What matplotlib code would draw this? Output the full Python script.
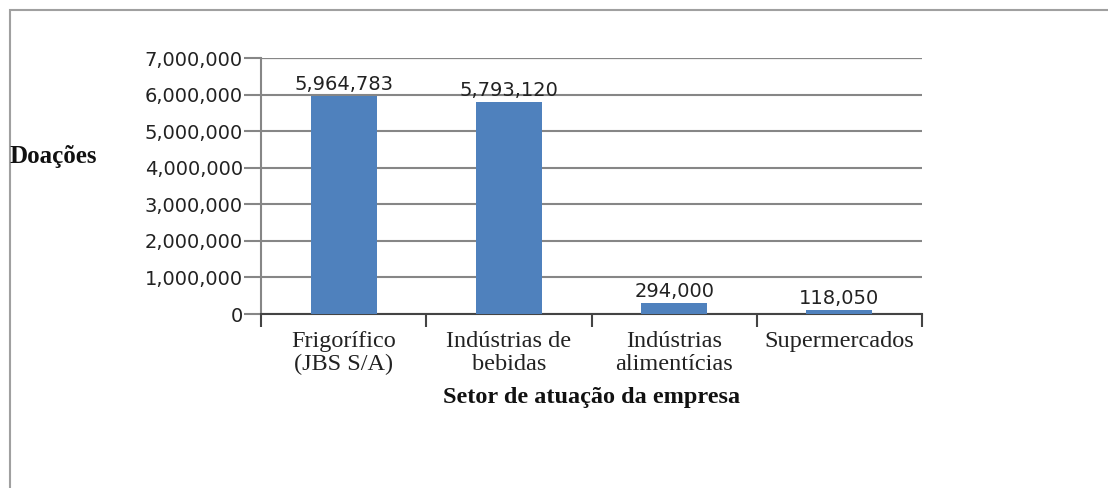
import matplotlib.pyplot as plt
from matplotlib.patches import Rectangle
from matplotlib.ticker import FuncFormatter

# dados
setores = ['Frigorífico\n(JBS S/A)', 'Indústrias de\nbebidas', 'Indústrias\nalimentícias', 'Supermercados']
doacoes = [5964783, 5793120, 294000, 118050]
yticks = [0, 1000000, 2000000, 3000000, 4000000, 5000000, 6000000, 7000000]

fig = plt.figure(figsize=(11.08, 4.88), dpi=100)
fig.patches.append(Rectangle((10 / 1108, -0.01), 1.1, (488 - 10) / 488 + 0.01,
                             transform=fig.transFigure, fill=False,
                             edgecolor='#a0a0a0', linewidth=1.5))

ax = fig.add_axes([261 / 1108, 1 - 314 / 488, (922 - 261) / 1108, (314 - 58) / 488])

x = range(len(setores))
ax.bar(x, doacoes, width=0.4, color='#4f81bd', zorder=3)
ax.set_xlim(-0.5, len(setores) - 0.5)
ax.set_ylim(0, 7000000)
ax.set_yticks(yticks)
ax.yaxis.set_major_formatter(FuncFormatter(lambda v, p: '0' if v == 0 else f'{int(v):,}'))
for t in ax.get_yticklabels():
    t.set_fontfamily('DejaVu Sans')
    t.set_fontsize(14)
    t.set_color('#222222')

ax.grid(axis='y', color='#868686', linewidth=1.5, zorder=0)
ax.axhline(7000000, color='black', linewidth=1.5, zorder=1)
for s in ['top', 'right']:
    ax.spines[s].set_visible(False)
ax.spines['left'].set_color('#868686')
ax.spines['bottom'].set_color('#444444')
ax.spines['left'].set_linewidth(1.5)
ax.spines['bottom'].set_linewidth(1.5)
ax.tick_params(axis='y', length=12, width=1.5, color='#868686', pad=1)

# marcas do eixo x entre categorias
ax.set_xticks([i - 0.5 for i in range(len(setores) + 1)], minor=False)
ax.set_xticklabels([])
ax.tick_params(axis='x', length=9, width=1.5, color='#444444', direction='out')
ax.set_xticks(list(x), minor=True)
ax.set_xticklabels(setores, minor=True, fontfamily='Liberation Serif', fontsize=17.5, color='#222222',
                   linespacing=1.15)
ax.tick_params(axis='x', which='minor', length=0, pad=12)

for i, v in enumerate(doacoes):
    ax.text(i, v + 50000, f'{v:,}', ha='center', va='bottom', fontfamily='DejaVu Sans',
            fontsize=14, color='#222222', zorder=4)

fig.text(10 / 1108, 1 - 156 / 488, 'Doações', fontfamily='Liberation Serif', fontweight='bold',
         fontsize=18, va='center', ha='left', color='#111111')
fig.text(592 / 1108, 1 - 397 / 488, 'Setor de atuação da empresa', fontfamily='Liberation Serif',
         fontweight='bold', fontsize=17.5, va='center', ha='center', color='#111111')

fig.savefig('out.png', dpi=100)
